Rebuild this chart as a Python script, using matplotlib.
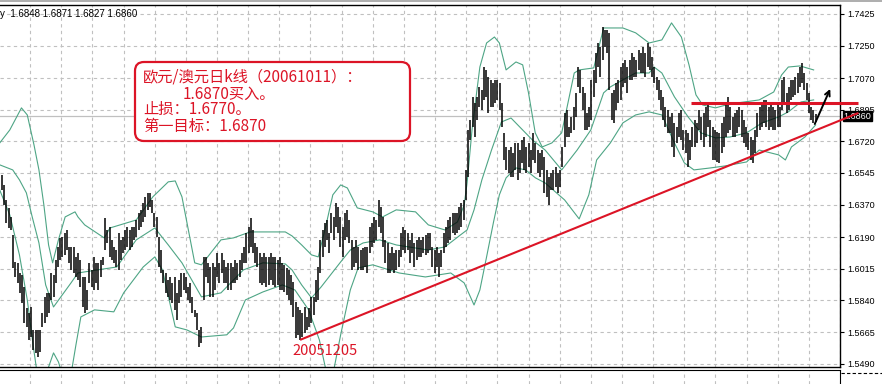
import numpy as np
import matplotlib
matplotlib.use("Agg")
import matplotlib.pyplot as plt
from matplotlib.patches import FancyBboxPatch
from matplotlib.lines import Line2D

plt.rcParams['font.family'] = ['Liberation Sans', 'DejaVu Sans']

# daily bars, EUR/AUD (high / low per bar)
highs = [
    1.6534, 1.6479, 1.6396, 1.6352, 1.6302, 1.6202, 1.6053, 1.6048, 1.5992, 1.5981,
    1.5915, 1.5799, 1.5771, 1.5804, 1.5677, 1.5677, 1.5677, 1.5677, 1.5771, 1.5860,
    1.5882, 1.5882, 1.5992, 1.5981, 1.6064, 1.6136, 1.6186, 1.6191, 1.6214, 1.6230,
    1.6136, 1.6136, 1.6136, 1.6081, 1.6103, 1.6064, 1.5970, 1.5970, 1.5898, 1.6048,
    1.6009, 1.6081, 1.6048, 1.6048, 1.6064, 1.6081, 1.6296, 1.6230, 1.6247, 1.6175,
    1.6136, 1.6119, 1.6214, 1.6175, 1.6191, 1.6230, 1.6247, 1.6230, 1.6247, 1.6247,
    1.6285, 1.6324, 1.6341, 1.6379, 1.6413, 1.6435, 1.6435, 1.6396, 1.6324, 1.6302,
    1.6191, 1.6119, 1.6009, 1.5992, 1.5954, 1.5970, 1.5937, 1.5970, 1.5882, 1.5954,
    1.5992, 1.5992, 1.5970, 1.5915, 1.5937, 1.5860, 1.5788, 1.5771, 1.5677, 1.5694,
    1.6081, 1.6081, 1.6048, 1.6025, 1.6048, 1.6025, 1.6103, 1.6048, 1.6103, 1.6064,
    1.6025, 1.6048, 1.6048, 1.6025, 1.6064, 1.6048, 1.6064, 1.6103, 1.6136,
    1.6214, 1.6247, 1.6296, 1.6230, 1.6158, 1.6136, 1.6103, 1.6081, 1.6103, 1.6081,
    1.6081, 1.6103, 1.6081, 1.6081, 1.6064, 1.6081, 1.6048, 1.6037, 1.6020, 1.6009,
    1.5981, 1.5943, 1.5832, 1.5804, 1.5788, 1.5771, 1.5804, 1.5749, 1.5799, 1.5860,
    1.5860, 1.5954, 1.6025, 1.6175, 1.6230, 1.6269, 1.6285, 1.6214, 1.6324, 1.6302,
    1.6379, 1.6357, 1.6302, 1.6247, 1.6324, 1.6341, 1.6285, 1.6175, 1.6136, 1.6175,
    1.6136, 1.6119, 1.6131, 1.6136, 1.6136, 1.6247, 1.6269, 1.6302, 1.6285, 1.6396,
    1.6357, 1.6302, 1.6175, 1.6158, 1.6103, 1.6136, 1.6103, 1.6119, 1.6119, 1.6214,
    1.6247, 1.6230, 1.6214, 1.6175, 1.6214, 1.6158, 1.6175, 1.6191, 1.6175, 1.6191,
    1.6202, 1.6214, 1.6214, 1.6136, 1.6119, 1.6136, 1.6103, 1.6119, 1.6214, 1.6247,
    1.6285, 1.6302, 1.6324, 1.6324, 1.6324, 1.6357, 1.6379, 1.6396, 1.6562, 1.6783,
    1.6838, 1.6966, 1.6932,
    1.6966, 1.7021, 1.7004, 1.7131, 1.7115, 1.7076, 1.7060, 1.7043, 1.7060, 1.7060,
    1.7043, 1.6932, 1.6767, 1.6689, 1.6672, 1.6689, 1.6656, 1.6711, 1.6711, 1.6672,
    1.6728, 1.6744, 1.6689, 1.6711, 1.6672, 1.6767, 1.6711, 1.6672, 1.6656, 1.6672,
    1.6634, 1.6562, 1.6523, 1.6545, 1.6562, 1.6578, 1.6545, 1.6562, 1.6689, 1.6877,
    1.6894, 1.6800, 1.6855, 1.6910, 1.6988, 1.7131, 1.7115, 1.7021, 1.6988, 1.6877,
    1.6910, 1.7060, 1.7115, 1.7209, 1.7264, 1.7242, 1.7353, 1.7336, 1.7336, 1.7320,
    1.6988, 1.7004, 1.7043, 1.7060, 1.7131, 1.7154, 1.7170, 1.7131, 1.7170, 1.7209,
    1.7187, 1.7170, 1.7226, 1.7209, 1.7242, 1.7209, 1.7264, 1.7242, 1.7187, 1.7131,
    1.7076, 1.7060, 1.7004, 1.6966, 1.6910, 1.6894, 1.6855, 1.6877, 1.6822, 1.6800,
    1.6877, 1.6894, 1.6783, 1.6783, 1.6767, 1.6728, 1.6800, 1.6838, 1.6822, 1.6894,
    1.6855, 1.6877, 1.6910, 1.6932, 1.6838, 1.6800, 1.6783, 1.6772, 1.6767, 1.6822,
    1.6855, 1.6932, 1.6966, 1.6910, 1.6855, 1.6877, 1.6894, 1.6910, 1.6894, 1.6838,
    1.6800, 1.6767, 1.6744, 1.6728, 1.6783, 1.6877, 1.6910, 1.6932, 1.6949, 1.6949,
    1.6910, 1.6932, 1.6910, 1.6894, 1.6932, 1.6910, 1.7060, 1.7076, 1.6988, 1.7021,
    1.7060, 1.7060, 1.7076, 1.7098, 1.7131, 1.7154, 1.7098, 1.7043, 1.6988, 1.6910,
    1.6894, 1.6871,
]
lows = [
    1.6451, 1.6368, 1.6269, 1.6241, 1.6230, 1.6020, 1.5970, 1.5937, 1.5882, 1.5826,
    1.5716, 1.5694, 1.5622, 1.5638, 1.5566, 1.5550, 1.5528, 1.5555, 1.5694, 1.5716,
    1.5749, 1.5771, 1.5843, 1.5860, 1.5937, 1.6025, 1.6064, 1.6081, 1.6092, 1.6119,
    1.6048, 1.6009, 1.5992, 1.5970, 1.5954, 1.5915, 1.5804, 1.5771, 1.5788, 1.5937,
    1.5915, 1.5898, 1.5937, 1.5898, 1.5970, 1.6037, 1.6119, 1.6158, 1.6081, 1.6064,
    1.6048, 1.6025, 1.6009, 1.6064, 1.6103, 1.6119, 1.6136, 1.6119, 1.6136, 1.6175,
    1.6191, 1.6230, 1.6247, 1.6274, 1.6302, 1.6341, 1.6357, 1.6324, 1.6247, 1.6191,
    1.6025, 1.5992, 1.5937, 1.5882, 1.5860, 1.5843, 1.5826, 1.5788, 1.5732, 1.5826,
    1.5860, 1.5898, 1.5882, 1.5843, 1.5826, 1.5771, 1.5749, 1.5677, 1.5583, 1.5605,
    1.5843, 1.5970, 1.5937, 1.5860, 1.5860, 1.5898, 1.5970, 1.5937, 1.5992, 1.5937,
    1.5937, 1.5898, 1.5898, 1.5937, 1.5937, 1.5954, 1.5970, 1.6009, 1.6048,
    1.6048, 1.6103, 1.6136, 1.6103, 1.6048, 1.6025, 1.5937, 1.5926, 1.5937, 1.5915,
    1.5926, 1.5954, 1.5926, 1.5915, 1.5926, 1.5898, 1.5898, 1.5887, 1.5871, 1.5843,
    1.5815, 1.5749, 1.5633, 1.5650, 1.5622, 1.5638, 1.5661, 1.5677, 1.5694, 1.5716,
    1.5760, 1.5832, 1.5843, 1.5992, 1.6081, 1.6136, 1.6175, 1.6103, 1.6214, 1.6175,
    1.6247, 1.6214, 1.6136, 1.6081, 1.6175, 1.6191, 1.6158, 1.6009, 1.6025, 1.6048,
    1.6009, 1.6009, 1.6009, 1.6025, 1.5992, 1.6103, 1.6136, 1.6158, 1.6175, 1.6247,
    1.6214, 1.6136, 1.6048, 1.5992, 1.5992, 1.6009, 1.5992, 1.6009, 1.6025, 1.6081,
    1.6119, 1.6103, 1.6119, 1.6048, 1.6103, 1.6025, 1.6064, 1.6081, 1.6081, 1.6103,
    1.6092, 1.6103, 1.6119, 1.6025, 1.5992, 1.6025, 1.5970, 1.6025, 1.6103, 1.6136,
    1.6158, 1.6175, 1.6214, 1.6202, 1.6214, 1.6230, 1.6247, 1.6285, 1.6396, 1.6523,
    1.6728, 1.6800, 1.6744,
    1.6838, 1.6910, 1.6894, 1.6949, 1.6966, 1.6877, 1.6910, 1.6910, 1.6932, 1.6949,
    1.6894, 1.6800, 1.6617, 1.6562, 1.6545, 1.6523, 1.6523, 1.6562, 1.6507, 1.6545,
    1.6601, 1.6562, 1.6545, 1.6578, 1.6545, 1.6617, 1.6601, 1.6545, 1.6523, 1.6562,
    1.6435, 1.6413, 1.6368, 1.6451, 1.6451, 1.6468, 1.6435, 1.6468, 1.6578, 1.6689,
    1.6744, 1.6744, 1.6767, 1.6783, 1.6855, 1.7021, 1.6988, 1.6894, 1.6783, 1.6783,
    1.6800, 1.6838, 1.6966, 1.7043, 1.7131, 1.7076, 1.7170, 1.7242, 1.7209, 1.7004,
    1.6838, 1.6822, 1.6894, 1.6932, 1.6949, 1.7021, 1.7043, 1.6988, 1.7060, 1.7060,
    1.7076, 1.7076, 1.7115, 1.7098, 1.7098, 1.7076, 1.7131, 1.7115, 1.7076, 1.7043,
    1.7004, 1.6949, 1.6894, 1.6838, 1.6800, 1.6767, 1.6767, 1.6689, 1.6634, 1.6711,
    1.6744, 1.6728, 1.6672, 1.6656, 1.6578, 1.6617, 1.6689, 1.6689, 1.6711, 1.6783,
    1.6728, 1.6689, 1.6744, 1.6800, 1.6689, 1.6617, 1.6617, 1.6606, 1.6601, 1.6656,
    1.6689, 1.6744, 1.6767, 1.6783, 1.6744, 1.6744, 1.6767, 1.6800, 1.6744, 1.6711,
    1.6689, 1.6672, 1.6617, 1.6601, 1.6656, 1.6744, 1.6783, 1.6800, 1.6822, 1.6800,
    1.6783, 1.6800, 1.6783, 1.6783, 1.6800, 1.6800, 1.6894, 1.6932, 1.6877, 1.6894,
    1.6949, 1.6966, 1.6977, 1.6988, 1.7021, 1.7043, 1.7004, 1.6949, 1.6877, 1.6838,
    1.6822, 1.6827,
]

# Bollinger bands (bar index, price)
upper_x = [-1, 3.5, 8.7, 11.3, 14.3, 16.5, 18.7, 20.8, 22.6, 25.2, 28.2, 32.6, 33.9, 36.9, 45.6,
           48.2, 59.9, 67.3, 74.2, 77.3, 80.3, 86.0, 89.0, 97.7, 103.3, 110.7, 126.4, 129.4, 133.7,
           138.1, 141.1, 144.6, 147.6, 151.1, 154.1, 158.5, 165.4, 169.8, 175.9, 184.5, 190.2, 197.6,
           203.2, 206.2, 207.5, 209.7, 211.9, 213.2, 216.2, 219.7, 221.9, 224.9, 229.3, 232.3, 234.9,
           237.9, 241.0, 245.3, 249.7, 255.3, 257.5, 264.0, 268.4, 277.0, 282.7, 288.7, 294.4, 298.7,
           303.1, 306.5, 309.6, 312.6, 318.3, 324.8, 331.3, 337.8, 344.3, 347.8, 350.8, 356.0, 362.1]
upper_y = [1.6711, 1.6783, 1.6905, 1.6866, 1.6700, 1.6562, 1.6368, 1.6147, 1.6048, 1.6175, 1.6302,
           1.6330, 1.6302, 1.6258, 1.6186, 1.6241, 1.6285, 1.6413, 1.6496, 1.6501, 1.6413, 1.6048,
           1.6037, 1.6175, 1.6186, 1.6219, 1.6219, 1.6197, 1.6147, 1.6092, 1.6081, 1.6258, 1.6424,
           1.6479, 1.6462, 1.6352, 1.6330, 1.6302, 1.6341, 1.6330, 1.6258, 1.6230, 1.6274, 1.6368,
           1.6490, 1.6783, 1.7004, 1.7131, 1.7264, 1.7297, 1.7264, 1.7115, 1.7159, 1.7143, 1.6988,
           1.6767, 1.6689, 1.6711, 1.6767, 1.7098, 1.7115, 1.7126, 1.7347, 1.7347, 1.7320, 1.7264,
           1.7281, 1.7375, 1.7297, 1.7143, 1.6977, 1.6921, 1.6905, 1.6927, 1.6938, 1.6949, 1.6993,
           1.7087, 1.7131, 1.7137, 1.7115]
mid_x = [-1, 4.8, 7.8, 10.9, 13.5, 16.5, 19.5, 23.0, 30.8, 33.9, 42.6, 51.2, 59.9, 68.2, 74.2, 80.3,
         89.0, 97.7, 107.7, 116.4, 126.4, 129.4, 133.7, 138.1, 142.4, 151.1, 155.4, 161.1, 168.5,
         175.9, 181.5, 190.2, 197.6, 204.5, 207.5, 210.6, 214.1, 218.4, 222.8, 227.1, 236.6, 242.3,
         249.7, 256.6, 262.7, 268.4, 271.4, 277.0, 282.7, 288.7, 290.9, 294.4, 300.0, 306.1, 311.8,
         318.3, 324.8, 332.2, 339.1, 346.5, 350.8, 356.5, 362.1]
mid_y = [1.6590, 1.6562, 1.6507, 1.6435, 1.6302, 1.6158, 1.5926, 1.5804, 1.5937, 1.5992, 1.6009,
         1.6025, 1.6175, 1.6241, 1.6147, 1.6048, 1.5860, 1.5882, 1.6009, 1.6048, 1.6042, 1.6009,
         1.5926, 1.5854, 1.5915, 1.6053, 1.6119, 1.6158, 1.6175, 1.6147, 1.6136, 1.6119, 1.6136,
         1.6202, 1.6230, 1.6341, 1.6507, 1.6672, 1.6827, 1.6849, 1.6728, 1.6672, 1.6562, 1.6672,
         1.6783, 1.6988, 1.7021, 1.7060, 1.7098, 1.7098, 1.7131, 1.7098, 1.6966, 1.6855, 1.6767,
         1.6739, 1.6744, 1.6767, 1.6822, 1.6855, 1.6883, 1.6938, 1.6949]
lower_x = [-1, 3.5, 7.8, 11.3, 13.9, 15.6, 18.7, 20.8, 23.0, 25.2, 27.4, 30.4, 33.0, 35.2, 41.3,
           49.9, 54.3, 63.0, 68.2, 71.6, 77.3, 82.5, 89.0, 100.3, 103.3, 108.6, 116.4, 125.1, 130.7,
           136.8, 141.6, 145.0, 147.6, 151.1, 155.4, 158.9, 165.4, 177.2, 188.9, 200.2, 206.2, 210.6,
           213.2, 216.2, 219.3, 221.9, 224.9, 229.3, 233.6, 238.0, 242.3, 251.0, 257.5, 261.8, 265.3,
           271.4, 277.0, 282.7, 288.7, 294.4, 300.0, 304.4, 308.7, 316.1, 322.6, 332.2, 337.8, 346.5,
           349.5, 352.2, 358.2, 363.0]
lower_y = [1.6451, 1.6313, 1.6092, 1.5843, 1.5594, 1.5445, 1.5401, 1.5472, 1.5550, 1.5500, 1.5412,
           1.5401, 1.5594, 1.5749, 1.5788, 1.5777, 1.5882, 1.6025, 1.6081, 1.6009, 1.5694, 1.5677,
           1.5638, 1.5650, 1.5688, 1.5843, 1.5887, 1.5926, 1.5898, 1.5788, 1.5622, 1.5428, 1.5428,
           1.5650, 1.5898, 1.6020, 1.6037, 1.5992, 1.5970, 1.5992, 1.5937, 1.5815, 1.5898, 1.6081,
           1.6274, 1.6424, 1.6518, 1.6573, 1.6562, 1.6518, 1.6490, 1.6396, 1.6291, 1.6424, 1.6617,
           1.6711, 1.6822, 1.6866, 1.6883, 1.6866, 1.6711, 1.6601, 1.6562, 1.6573, 1.6584, 1.6606,
           1.6672, 1.6645, 1.6617, 1.6689, 1.6744, 1.6811]

yticks = [1.5490, 1.5665, 1.5840, 1.6015, 1.6190, 1.6370, 1.6545, 1.6720, 1.6895, 1.7070, 1.7250, 1.7425]
last_price = 1.6860
ohlc_text = "1.6848 1.6871 1.6827 1.6860"

# hand drawn lines (bar index, price)
trend_x = [133, 382.1]
trend_y = [1.5622, 1.6877]
level_x = [307.4, 382.1]
level_y = 1.6932
arrow_from = (362.6, 1.6816)
arrow_to = (369.5, 1.7010)

low_label = "20051205"
note_lines = ["欧元/澳元日k线（20061011）：", "1.6870买入。", "止损：1.6770。", "第一目标：1.6870"]

RED = '#dc1426'
GREEN = '#4ea585'
GRID = '#c0c0c0'
W, H = 882, 384

n = min(len(highs), len(lows))
xs = np.arange(n)
xmin, xmax = -0.87, 363.9

fig = plt.figure(figsize=(W / 100, H / 100), dpi=100)
ax = fig.add_axes([0, 1 - 367 / H, 840 / W, 362 / H])
ax.set_xlim(xmin, xmax)
ax.set_ylim(1.5472, 1.7474)
ax.set_axisbelow(True)

# grid
vgrid = 12.59 + 13.895 * np.arange(27)
ax.set_xticks(vgrid)
ax.set_xticklabels([])
ax.tick_params(axis='x', length=0)
ax.set_yticks(yticks)
ax.set_yticklabels([f"{t:.4f}" for t in yticks])
ax.grid(True, color=GRID, ls=(0, (3, 3)), lw=0.8)
ax.axhline(last_price, color=GRID, lw=0.9, zorder=1)

ax.yaxis.tick_right()
ax.tick_params(axis='y', right=True, left=False, labelright=True, labelleft=False,
               length=3, width=0.8, pad=2, labelsize=6.5)
ax.spines['left'].set_visible(False)
for s in ['top', 'right', 'bottom']:
    ax.spines[s].set_linewidth(1.0)

# bars and bands
ax.vlines(xs, lows[:n], highs[:n], color='black', lw=1.1, zorder=3)
ax.plot(upper_x, upper_y, color=GREEN, lw=0.8, zorder=2)
ax.plot(mid_x, mid_y, color=GREEN, lw=0.8, zorder=2)
ax.plot(lower_x, lower_y, color=GREEN, lw=0.8, zorder=2)

# current price tag
ax.text(1 + 3.5 / 840, last_price, f"{last_price:.4f}", transform=ax.get_yaxis_transform(),
        ha='left', va='center', fontsize=6.5, color='white', zorder=6, clip_on=False,
        bbox=dict(boxstyle='square,pad=0.1', fc='black', ec='black'))

# drawn objects
ax.plot(trend_x, trend_y, color=RED, lw=1.5, zorder=7, clip_on=False, solid_capstyle='butt')
ax.plot(level_x, [level_y, level_y], color=RED, lw=2.2, zorder=7, clip_on=False, solid_capstyle='butt')
ax.annotate('', xy=arrow_to, xytext=arrow_from, annotation_clip=False, zorder=8,
            arrowprops=dict(arrowstyle='->', color='black', lw=1.4, shrinkA=0, shrinkB=0,
                            mutation_scale=9, clip_on=False))

# note box
box = FancyBboxPatch((1.35, (H - 141) / 100), 2.75, 0.79,
                     boxstyle='round,pad=0,rounding_size=0.09',
                     transform=fig.dpi_scale_trans, fc='white', ec=RED, lw=1.6,
                     zorder=5, clip_on=False)
ax.add_patch(box)

cjk = ['Noto Sans CJK SC', 'DejaVu Sans']
note_pos = [(143, 77), (183, 94), (143, 109), (143, 126)]
for txt, (px, py) in zip(note_lines, note_pos):
    fig.text(px / W, 1 - py / H, txt, family=cjk, fontsize=11, color=RED,
             ha='left', va='center')

fig.text(325 / W, 1 - 351 / H, low_label, family=cjk, fontsize=10.5, color=RED,
         ha='center', va='center')

fig.text(0.0, 1 - 14 / H, "y  " + ohlc_text, fontsize=7, color='black', ha='left', va='center')

# top frame line
fig.add_artist(Line2D([0, 1], [1 - 0.5 / H] * 2, color='#a0a0a0', lw=1.2))

# small indicator strip below
sub = fig.add_axes([0, 0, 840 / W, 14 / H])
sub.set_xlim(xmin, xmax)
sub.set_ylim(0, 1)
sub.set_xticks(vgrid)
sub.set_yticks([])
sub.set_xticklabels([])
sub.tick_params(axis='x', length=0)
sub.grid(True, axis='x', color=GRID, ls=(0, (3, 3)), lw=0.8)
sub.spines['left'].set_visible(False)
sub.spines['bottom'].set_visible(False)
fig.add_artist(Line2D([841 / W, 1], [1 - 373 / H] * 2, color='black', lw=0.8, ls=(0, (3, 2))))

fig.savefig("out.png", dpi=100)
